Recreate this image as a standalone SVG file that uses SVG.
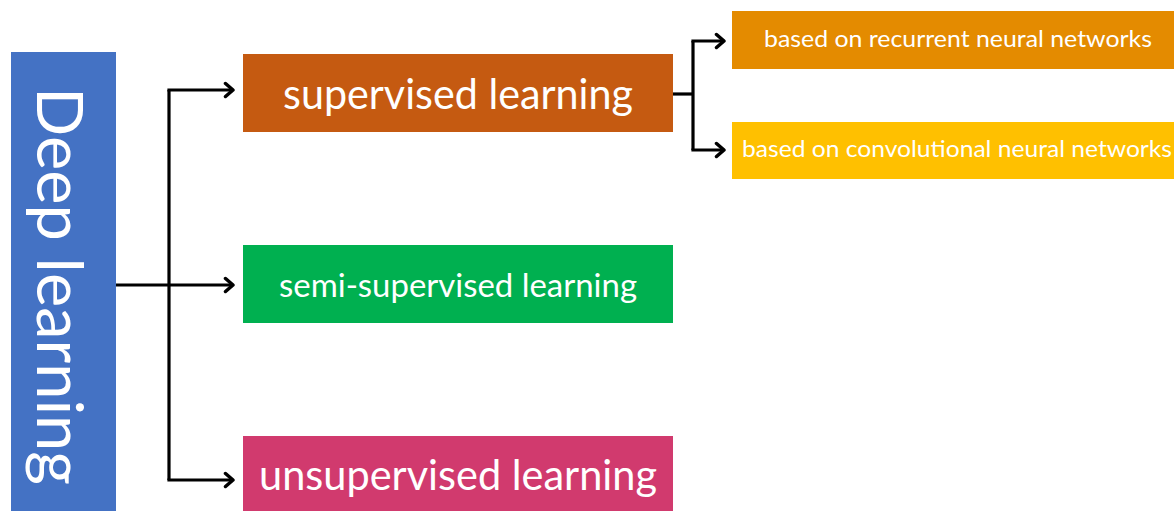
<svg xmlns="http://www.w3.org/2000/svg" width="1174" height="511" viewBox="0 0 1174 511">
  <defs>
    <marker id="chev" viewBox="0 0 12 18" refX="10" refY="9" markerWidth="12" markerHeight="18" markerUnits="userSpaceOnUse" orient="auto">
      <path d="M2.5,2.5 L10,9 L2.5,15.5" fill="none" stroke="#000" stroke-width="3.5" stroke-linecap="round" stroke-linejoin="round"/>
    </marker>
    <style>
      .lbl { font-family: Lato, "Open Sans", sans-serif; fill: #fff; text-anchor: middle; }
      .wire { fill: none; stroke: #000; stroke-width: 3.2; }
      .arr { marker-end: url(#chev); }
    </style>
  </defs>
  <rect width="1174" height="511" fill="#fff"/>

  <g id="connectors">
    <path class="wire" d="M116,285 H169"/>
    <path class="wire" d="M169,90 V480"/>
    <path class="wire arr" d="M167.4,90 H233"/>
    <path class="wire arr" d="M169,285 H233"/>
    <path class="wire arr" d="M167.4,480 H233"/>
    <path class="wire" d="M673,94 H693"/>
    <path class="wire" d="M693,41 V150"/>
    <path class="wire arr" d="M691.4,41 H724"/>
    <path class="wire arr" d="M691.4,150 H724"/>
  </g>

  <g id="deep-learning">
    <rect x="11" y="52" width="105" height="470" fill="#4472C4"/>
    <text class="lbl" transform="translate(37,286) rotate(90)" font-size="64" textLength="398" lengthAdjust="spacingAndGlyphs">Deep learning</text>
  </g>

  <g id="supervised">
    <rect x="243" y="54" width="430" height="78" fill="#C55A11"/>
    <text class="lbl" x="458" y="109" font-size="43" textLength="350" lengthAdjust="spacingAndGlyphs">supervised learning</text>
  </g>

  <g id="semi-supervised">
    <rect x="243" y="245" width="430" height="78" fill="#00B050"/>
    <text class="lbl" x="458" y="297" font-size="32" textLength="358" lengthAdjust="spacingAndGlyphs">semi-supervised learning</text>
  </g>

  <g id="unsupervised">
    <rect x="243" y="436" width="430" height="80" fill="#D13A6E"/>
    <text class="lbl" x="458" y="490" font-size="43" textLength="398" lengthAdjust="spacingAndGlyphs">unsupervised learning</text>
  </g>

  <g id="rnn">
    <rect x="732" y="11" width="442" height="58" fill="#E48B00"/>
    <text class="lbl" x="958" y="47" font-size="23" textLength="388" lengthAdjust="spacingAndGlyphs">based on recurrent neural networks</text>
  </g>

  <g id="cnn">
    <rect x="732" y="122" width="442" height="57" fill="#FFC000"/>
    <text class="lbl" x="957" y="157" font-size="23" textLength="430" lengthAdjust="spacingAndGlyphs">based on convolutional neural networks</text>
  </g>
</svg>
